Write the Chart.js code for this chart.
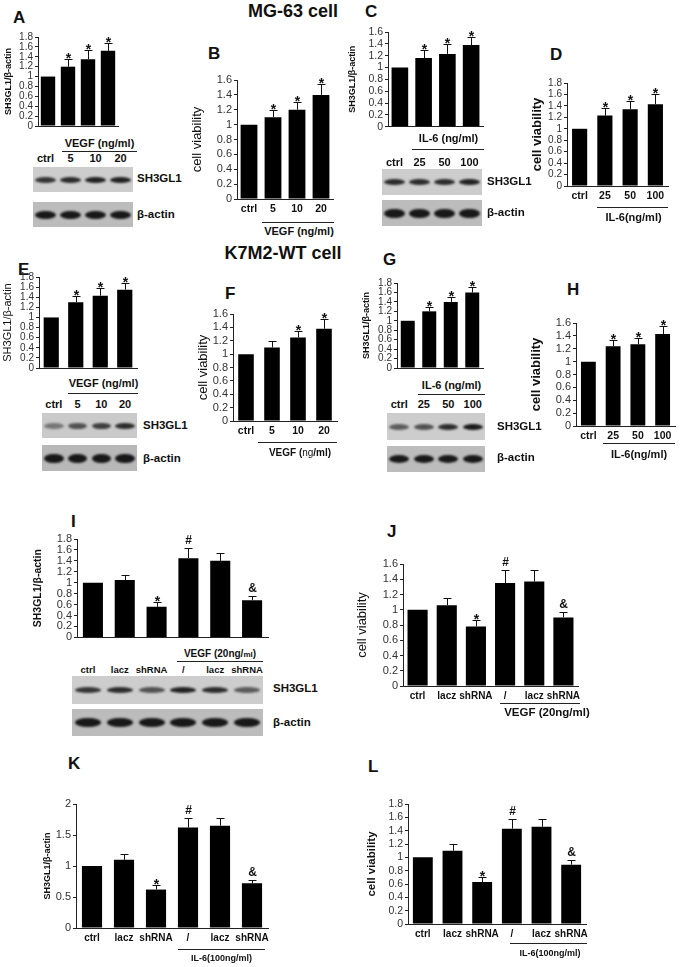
<!DOCTYPE html>
<html>
<head>
<meta charset="utf-8">
<script src="https://cdn.jsdelivr.net/npm/chart.js@4.4.0/dist/chart.umd.min.js"></script>
<style>
  body { margin: 0; background: #fff; font-family: "Liberation Sans", Arial, sans-serif; color: #111; }
  #fig { position: relative; width: 685px; height: 967px; overflow: hidden; }
  .abs { position: absolute; white-space: nowrap; line-height: 1; }
</style>
</head>
<body>
<div id="fig"></div>
<script>
// categories
const doseVegf = ["ctrl", "5", "10", "20"];
const doseIl6 = ["ctrl", "25", "50", "100"];
const groups = ["ctrl", "lacz", "shRNA", "/", "lacz", "shRNA"];

// series (mean, error, significance mark)
const aMean = [1.0, 1.2, 1.35, 1.52], aErr = [0, 0.15, 0.18, 0.16];
const bMean = [1.0, 1.1, 1.2, 1.4],   bErr = [0, 0.1, 0.1, 0.15];
const cMean = [1.0, 1.16, 1.23, 1.38], cErr = [0, 0.13, 0.16, 0.14];
const dMean = [1.0, 1.23, 1.34, 1.43], dErr = [0, 0.14, 0.15, 0.17];
const eMean = [1.0, 1.3, 1.43, 1.55], eErr = [0, 0.12, 0.15, 0.13];
const fMean = [1.0, 1.1, 1.25, 1.38], fErr = [0, 0.1, 0.1, 0.14];
const gMean = [1.0, 1.2, 1.4, 1.6],   gErr = [0, 0.1, 0.1, 0.12];
const hMean = [1.0, 1.24, 1.27, 1.43], hErr = [0, 0.09, 0.09, 0.12];
const iMean = [1.0, 1.05, 0.56, 1.45, 1.4, 0.68], iErr = [0, 0.1, 0.08, 0.18, 0.15, 0.07];
const jMean = [1.0, 1.06, 0.78, 1.35, 1.37, 0.9], jErr = [0, 0.1, 0.08, 0.17, 0.15, 0.07];
const kMean = [1.0, 1.1, 0.62, 1.62, 1.65, 0.72], kErr = [0, 0.09, 0.08, 0.15, 0.13, 0.06];
const lMean = [1.0, 1.1, 0.63, 1.43, 1.46, 0.89], lErr = [0, 0.1, 0.07, 0.15, 0.12, 0.07];

const doseMarks = ["", "*", "*", "*"];
const fMarks = ["", "", "*", "*"];
const groupMarks = ["", "", "*", "#", "", "&"];

// y tick ranges
const yMax18 = 1.8, yMax16 = 1.6, yMax2 = 2;

// western blot band darkness per lane
const blotA = [0.8, 0.85, 0.9, 0.9],  actinA = [0.95, 0.95, 0.95, 0.95];
const blotC = [0.85, 0.85, 0.85, 0.9], actinC = [0.95, 0.95, 0.95, 0.95];
const blotE = [0.45, 0.65, 0.75, 0.85], actinE = [0.95, 0.95, 0.95, 0.95];
const blotG = [0.6, 0.65, 0.85, 0.95], actinG = [0.95, 0.95, 0.95, 0.95];
const blotI = [0.8, 0.85, 0.65, 0.9, 0.85, 0.6], actinI = [0.95, 0.95, 0.95, 0.95, 0.95, 0.95];

Chart.defaults.font.family = '"Liberation Sans", Arial, sans-serif';
const fig = document.getElementById("fig");

function put(html, css) {
    const d = document.createElement("div");
    d.className = "abs";
    d.innerHTML = html;
    Object.assign(d.style, css);
    fig.appendChild(d);
    return d;
}
function text(s, x, y, size, bold, x2) {
    const css = { left: x + "px", top: y + "px", fontSize: size + "px",
        fontWeight: bold ? "bold" : "normal", transform: "translateY(-50%)" };
    if (x2) { css.width = (x2 - x) + "px"; css.textAlign = "center"; }
    return put(s, css);
}
function hline(x1, x2, y) {
    put("", { left: x1 + "px", top: y + "px", width: (x2 - x1) + "px", height: "1px", background: "#222" });
}
function lanes(x, y, w, labels, size) {
    const d = put("", { left: x + "px", top: y + "px", width: w + "px", display: "flex",
        transform: "translateY(-50%)", fontSize: size + "px", fontWeight: "bold" });
    labels.forEach(l => {
        const s = document.createElement("div");
        s.style.cssText = "flex:1;text-align:center;overflow:visible";
        s.textContent = l;
        d.appendChild(s);
    });
}
function blot(x, y, w, h, dark, bg, bandH) {
    const d = put("", { left: x + "px", top: y + "px", width: w + "px", height: h + "px",
        background: bg, display: "flex", alignItems: "center" });
    dark.forEach(a => {
        const lane = document.createElement("div");
        lane.style.cssText = "flex:1;display:flex;justify-content:center;align-items:center;height:100%";
        const b = document.createElement("div");
        b.style.cssText = "width:82%;height:" + bandH + "px;border-radius:50%;background:rgba(15,15,15," + a + ");filter:blur(1.1px)";
        lane.appendChild(b);
        d.appendChild(lane);
    });
}

// error bars and significance marks
const errMarks = {
    id: "errMarks",
    afterDatasetsDraw(chart, args, opts) {
        const ctx = chart.ctx, y = chart.scales.y;
        const meta = chart.getDatasetMeta(0);
        const vals = chart.data.datasets[0].data;
        ctx.save();
        ctx.strokeStyle = "#111";
        ctx.fillStyle = "#111";
        ctx.lineWidth = 1;
        meta.data.forEach((bar, i) => {
            const e = opts.err[i];
            let top = y.getPixelForValue(vals[i]);
            const x = Math.round(bar.x) + 0.5;
            if (e > 0) {
                const yt = Math.round(y.getPixelForValue(vals[i] + e)) + 0.5;
                ctx.beginPath();
                ctx.moveTo(x, top);
                ctx.lineTo(x, yt);
                ctx.moveTo(x - 4, yt);
                ctx.lineTo(x + 4, yt);
                ctx.stroke();
                top = yt;
            }
            const m = opts.mark[i];
            if (m) {
                ctx.textAlign = "center";
                ctx.textBaseline = "alphabetic";
                if (m === "*") {
                    ctx.font = "bold 14px 'Liberation Sans', Arial";
                    ctx.fillText(m, x, top + 3);
                } else {
                    ctx.font = "bold 12px 'Liberation Sans', Arial";
                    ctx.fillText(m, x, top - 5);
                }
            }
        });
        ctx.restore();
    }
};

function barPanel(p) {
    const padT = 10, padR = 12;
    const xh = p.xFont ? 22 : 3;
    const yw = Math.round(p.l - p.titleX + p.titleSize);
    const left = p.l - yw;
    const W = p.r - p.l + yw + padR, H = p.b - p.t + padT + xh;
    const cv = document.createElement("canvas");
    cv.width = W; cv.height = H;
    Object.assign(cv.style, { position: "absolute", left: left + "px", top: (p.t - padT) + "px",
        width: W + "px", height: H + "px" });
    fig.appendChild(cv);
    new Chart(cv, {
        type: "bar",
        data: {
            labels: p.labels,
            datasets: [{ data: p.mean, backgroundColor: "#000", borderWidth: 0,
                barPercentage: p.barPct, categoryPercentage: 1 }]
        },
        options: {
            responsive: false,
            animation: false,
            devicePixelRatio: 1,
            layout: { padding: { top: padT, right: padR, left: 0, bottom: 0 } },
            plugins: {
                legend: { display: false },
                tooltip: { enabled: false },
                errMarks: { err: p.err, mark: p.marks }
            },
            scales: {
                x: {
                    grid: { display: false, drawTicks: false, tickLength: 0 },
                    border: { color: "#222" },
                    ticks: {
                        display: !!p.xFont, color: "#111", padding: 4,
                        maxRotation: 0, autoSkip: false,
                        font: { size: p.xFont || 10, weight: "bold" }
                    },
                    afterFit: s => { s.height = xh; }
                },
                y: {
                    min: 0, max: p.max,
                    grid: { drawOnChartArea: false, tickLength: 3, color: "#222" },
                    border: { color: "#222" },
                    ticks: {
                        stepSize: p.step || 0.2, color: "#333", padding: 2, autoSkip: false,
                        font: { size: p.tickSize },
                        callback: v => String(Math.round(v * 10) / 10)
                    },
                    title: {
                        display: true, text: p.title, color: "#111",
                        font: { size: p.titleSize, weight: p.titleBold ? "bold" : "normal" },
                        padding: { top: p.titleX - left - 0.6 * p.titleSize, bottom: 0 }
                    },
                    afterFit: s => { s.width = yw; }
                }
            }
        },
        plugins: [errMarks]
    });
}

// titles and panel letters
text("MG-63 cell", 203, 11, 18, true, 383);
text("K7M2-WT cell", 183, 253, 18, true, 383);
[["A", 13, 17], ["B", 208, 53], ["C", 365, 11], ["D", 550, 54],
 ["E", 18, 269], ["F", 225, 293], ["G", 383, 259], ["H", 567, 289],
 ["I", 71, 521], ["J", 387, 531], ["K", 68, 763], ["L", 368, 766]]
    .forEach(([s, x, y]) => text(s, x, y, 17, true));

// ---- MG-63 row
barPanel({ l: 38, t: 37, r: 118, b: 131, max: yMax18, tickSize: 10, labels: doseVegf,
    mean: aMean, err: aErr, marks: doseMarks, barPct: 0.72,
    title: "SH3GL1/β-actin", titleX: 9, titleSize: 9, titleBold: true });
text("VEGF (ng/ml)", 60, 143, 11, true, 139);
hline(62, 137, 151);
lanes(33, 158, 100, doseVegf, 11);
blot(33, 167, 100, 25, blotA, "#cdcdcd", 6);
blot(33, 202, 100, 25, actinA, "#bcbcbc", 8);
text("SH3GL1", 137, 179, 11.5, true);
text("β-actin", 137, 215, 11.5, true);

barPanel({ l: 237, t: 80, r: 333, b: 199, max: yMax16, tickSize: 11, labels: doseVegf,
    mean: bMean, err: bErr, marks: doseMarks, barPct: 0.7, xFont: 10.5,
    title: "cell viability", titleX: 197, titleSize: 13, titleBold: false });
hline(262, 334, 222);
text("VEGF (ng/ml)", 260, 231, 11, true, 338);

barPanel({ l: 388, t: 32, r: 483, b: 132, max: yMax16, tickSize: 10.5, labels: doseIl6,
    mean: cMean, err: cErr, marks: doseMarks, barPct: 0.7,
    title: "SH3GL1/β-actin", titleX: 353, titleSize: 9, titleBold: true });
text("IL-6 (ng/ml)", 410, 138, 11, true, 487);
hline(412, 484, 149);
lanes(382, 162, 100, doseIl6, 11);
blot(382, 169, 100, 26, blotC, "#cdcdcd", 6);
blot(382, 200, 100, 26, actinC, "#bcbcbc", 9);
text("SH3GL1", 487, 182, 11.5, true);
text("β-actin", 487, 213, 11.5, true);

barPanel({ l: 567, t: 83, r: 668, b: 186, max: yMax18, tickSize: 10, labels: doseIl6,
    mean: dMean, err: dErr, marks: doseMarks, barPct: 0.6, xFont: 10.5,
    title: "cell viability", titleX: 537, titleSize: 13, titleBold: true });
hline(597, 668, 207);
text("IL-6(ng/ml)", 597, 217, 11, true, 670);

// ---- K7M2-WT row
barPanel({ l: 39, t: 277, r: 137, b: 373, max: yMax18, tickSize: 10, labels: doseVegf,
    mean: eMean, err: eErr, marks: doseMarks, barPct: 0.62,
    title: "SH3GL1/β-actin", titleX: 8, titleSize: 11, titleBold: false });
text("VEGF (ng/ml)", 66, 383, 11, true, 141);
hline(68, 138, 393);
lanes(42, 404, 95, doseVegf, 11);
blot(42, 413, 95, 25, blotE, "#cacaca", 6);
blot(42, 445, 95, 26, actinE, "#b8b8b8", 9);
text("SH3GL1", 143, 426, 11.5, true);
text("β-actin", 143, 459, 11.5, true);

barPanel({ l: 233, t: 314, r: 337, b: 421, max: yMax16, tickSize: 11, labels: doseVegf,
    mean: fMean, err: fErr, marks: fMarks, barPct: 0.6, xFont: 10.5,
    title: "cell viability", titleX: 203, titleSize: 13, titleBold: false });
hline(258, 337, 442);
text("VEGF (<span style='font-weight:normal'>ng</span>/ml)", 262, 453, 10, true, 338);

barPanel({ l: 397, t: 283, r: 483, b: 373, max: yMax18, tickSize: 10, labels: doseIl6,
    mean: gMean, err: gErr, marks: doseMarks, barPct: 0.65,
    title: "SH3GL1/β-actin", titleX: 367, titleSize: 9, titleBold: true });
text("IL-6 (ng/ml)", 416, 385, 11, true, 487);
hline(418, 485, 394);
lanes(387, 404, 98, doseIl6, 11);
blot(387, 413, 98, 27, blotG, "#cdcdcd", 6);
blot(387, 446, 98, 26, actinG, "#bcbcbc", 8);
text("SH3GL1", 497, 427, 11.5, true);
text("β-actin", 497, 458, 11.5, true);

barPanel({ l: 576, t: 323, r: 675, b: 426, max: yMax16, tickSize: 11, labels: doseIl6,
    mean: hMean, err: hErr, marks: doseMarks, barPct: 0.6, xFont: 10.5,
    title: "cell viability", titleX: 536, titleSize: 13, titleBold: true });
hline(603, 675, 443);
text("IL-6(ng/ml)", 603, 454, 11, true, 675);

// ---- knockdown panels
barPanel({ l: 77, t: 539, r: 268, b: 643, max: yMax18, tickSize: 11, labels: groups,
    mean: iMean, err: iErr, marks: groupMarks, barPct: 0.63,
    title: "SH3GL1/β-actin", titleX: 38, titleSize: 10.5, titleBold: true });
text("VEGF (20ng/<span style='font-size:8px'>ml</span>)", 177, 654, 10, true, 263);
hline(177, 263, 661);
lanes(72, 670, 191, groups, 9.5);
blot(72, 676, 191, 28, blotI, "#cdcdcd", 6);
blot(72, 709, 191, 27, actinI, "#bcbcbc", 9);
text("SH3GL1", 273, 689, 11.5, true);
text("β-actin", 273, 723, 11.5, true);

barPanel({ l: 403, t: 564, r: 578, b: 686, max: yMax16, tickSize: 11, labels: groups,
    mean: jMean, err: jErr, marks: groupMarks, barPct: 0.69, xFont: 10,
    title: "cell viability", titleX: 362, titleSize: 13, titleBold: false });
hline(500, 580, 703);
text("VEGF (20ng/ml)", 500, 713, 11.5, true, 594);

barPanel({ l: 76, t: 804, r: 268, b: 928, max: yMax2, step: 0.5, tickSize: 11, labels: groups,
    mean: kMean, err: kErr, marks: groupMarks, barPct: 0.63, xFont: 10,
    title: "SH3GL1/β-actin", titleX: 48, titleSize: 9, titleBold: true });
hline(178, 265, 949);
text("IL-6(100ng/ml)", 178, 958, 9, true, 265);

barPanel({ l: 408, t: 804, r: 586, b: 924, max: yMax18, tickSize: 10.5, labels: groups,
    mean: lMean, err: lErr, marks: groupMarks, barPct: 0.67, xFont: 10,
    title: "cell viability", titleX: 372, titleSize: 11.5, titleBold: true });
hline(510, 587, 943);
text("IL-6(100ng/ml)", 510, 953, 9, true, 590);
</script>
</body>
</html>
